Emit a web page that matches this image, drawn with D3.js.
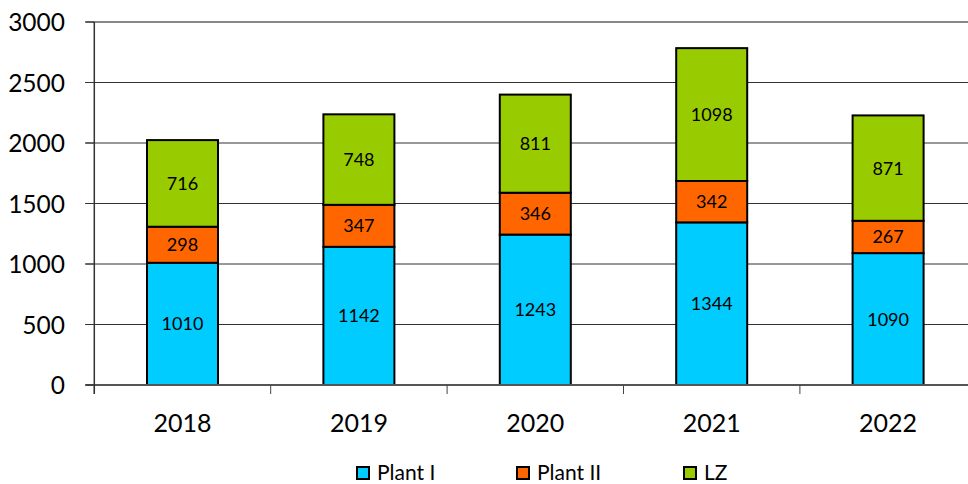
<!DOCTYPE html>
<html>
<head>
<meta charset="utf-8">
<script src="https://cdn.jsdelivr.net/npm/d3@7"></script>
<style>
  body { margin: 0; background: #fff; }
  svg { display: block; font-family: Lato, "Open Sans", sans-serif; }
</style>
</head>
<body>
<div id="chart"></div>
<script>
const years = ["2018", "2019", "2020", "2021", "2022"];
const plantI = [1010, 1142, 1243, 1344, 1090];
const plantII = [298, 347, 346, 342, 267];
const lz = [716, 748, 811, 1098, 871];
const seriesNames = ["Plant I", "Plant II", "LZ"];
const seriesColors = ["#00CCFF", "#FF6600", "#99CC00"];
const yTicks = [0, 500, 1000, 1500, 2000, 2500, 3000];

const width = 968, height = 484;
const plotLeft = 94.3, plotTop = 22, plotBottom = 385;
const bandW = 176.4;

const svg = d3.select("#chart").append("svg")
  .attr("width", width).attr("height", height);

const x = d3.scaleBand().domain(years)
  .range([plotLeft, plotLeft + bandW * years.length])
  .paddingInner(0).paddingOuter(0);
const y = d3.scaleLinear().domain([0, 3000]).range([plotBottom, plotTop]);

// gridlines
svg.append("g").selectAll("line")
  .data(yTicks.filter(d => d > 0 && d < 3000))
  .join("line")
  .attr("x1", plotLeft - 9).attr("x2", width)
  .attr("y1", d => y(d)).attr("y2", d => y(d))
  .attr("stroke", "#333").attr("stroke-width", 1);

svg.append("line")
  .attr("x1", plotLeft - 9).attr("x2", width)
  .attr("y1", y(3000)).attr("y2", y(3000))
  .attr("stroke", "#888").attr("stroke-width", 2);

// y tick labels
svg.append("g").selectAll("text")
  .data(yTicks).join("text")
  .attr("x", 65).attr("y", d => y(d) + 9)
  .attr("text-anchor", "end")
  .attr("font-size", 24.5)
  .attr("fill", "#000")
  .text(d => d);

// stacked data
const rows = years.map((yr, i) => ({ year: yr, "Plant I": plantI[i], "Plant II": plantII[i], "LZ": lz[i] }));
const stack = d3.stack().keys(seriesNames)(rows);

const barW = 71;
const groups = svg.append("g").selectAll("g")
  .data(stack).join("g")
  .attr("fill", (d, i) => seriesColors[i]);

groups.selectAll("rect")
  .data(d => d).join("rect")
  .attr("x", d => x(d.data.year) + x.bandwidth() / 2 - barW / 2)
  .attr("y", d => y(d[1]))
  .attr("width", barW)
  .attr("height", d => y(d[0]) - y(d[1]))
  .attr("stroke", "#000").attr("stroke-width", 2);

groups.selectAll("text")
  .data(d => d).join("text")
  .attr("x", d => x(d.data.year) + x.bandwidth() / 2)
  .attr("y", d => (y(d[0]) + y(d[1])) / 2 + 6.5)
  .attr("text-anchor", "middle")
  .attr("font-size", 18)
  .attr("fill", "#000")
  .text(d => d[1] - d[0]);

// x axis
svg.append("line")
  .attr("x1", plotLeft - 9).attr("x2", width)
  .attr("y1", plotBottom).attr("y2", plotBottom)
  .attr("stroke", "#555").attr("stroke-width", 2);

svg.append("g").selectAll("line")
  .data(d3.range(years.length + 1))
  .join("line")
  .attr("x1", i => plotLeft + bandW * i).attr("x2", i => plotLeft + bandW * i)
  .attr("y1", plotBottom).attr("y2", plotBottom + 9)
  .attr("stroke", "#444").attr("stroke-width", 1);

// y axis line
svg.append("line")
  .attr("x1", plotLeft).attr("x2", plotLeft)
  .attr("y1", plotTop).attr("y2", plotBottom + 9)
  .attr("stroke", "#333").attr("stroke-width", 1.5);

// y ticks
svg.append("g").selectAll("line")
  .data(yTicks).join("line")
  .attr("x1", plotLeft - 9).attr("x2", plotLeft)
  .attr("y1", d => y(d)).attr("y2", d => y(d))
  .attr("stroke", "#333");

// category labels
svg.append("g").selectAll("text")
  .data(years).join("text")
  .attr("x", d => x(d) + x.bandwidth() / 2)
  .attr("y", 432)
  .attr("text-anchor", "middle")
  .attr("font-size", 25)
  .attr("fill", "#000")
  .text(d => d);

// legend
const legendX = [357, 517, 684];
const legend = svg.append("g").selectAll("g")
  .data(seriesNames).join("g")
  .attr("transform", (d, i) => `translate(${legendX[i]},467)`);

legend.append("rect")
  .attr("width", 12).attr("height", 12)
  .attr("fill", (d, i) => seriesColors[i])
  .attr("stroke", "#000").attr("stroke-width", 2);

legend.append("text")
  .attr("x", 20).attr("y", 12.5)
  .attr("font-size", 21)
  .attr("fill", "#000")
  .text(d => d);
</script>
</body>
</html>
